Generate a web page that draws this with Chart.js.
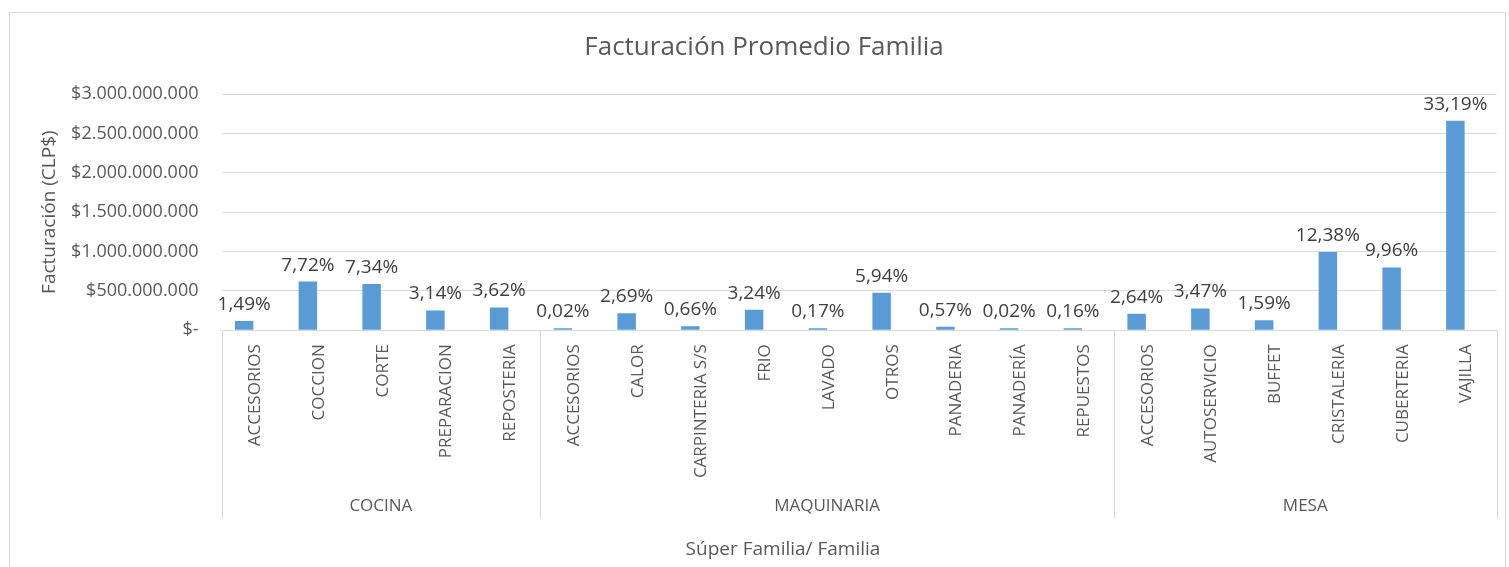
<!DOCTYPE html>
<html>
<head>
<meta charset="utf-8">
<title>Facturación Promedio Familia</title>
<script src="https://cdn.jsdelivr.net/npm/chart.js@4.4.1/dist/chart.umd.min.js"></script>
<style>
  html, body { margin: 0; padding: 0; background: #fff; }
  #wrap { width: 1509px; height: 567px; }
</style>
</head>
<body>
<div id="wrap"><canvas id="myChart" width="1509" height="567"></canvas></div>
<script>
// datos
const familias = ['ACCESORIOS', 'COCCION', 'CORTE', 'PREPARACION', 'REPOSTERIA',
  'ACCESORIOS', 'CALOR', 'CARPINTERIA S/S', 'FRIO', 'LAVADO', 'OTROS', 'PANADERIA', 'PANADERÍA', 'REPUESTOS',
  'ACCESORIOS', 'AUTOSERVICIO', 'BUFFET', 'CRISTALERIA', 'CUBERTERIA', 'VAJILLA'];
const superFamilias = ['COCINA', 'MAQUINARIA', 'MESA'];
const familiasPorGrupo = [5, 9, 6];
const facturacion = [119500000, 619100000, 588700000, 251800000, 290300000,
  1600000, 215700000, 52900000, 259800000, 13600000, 476400000, 45700000, 1600000, 12800000,
  211700000, 278300000, 127500000, 992900000, 798800000, 2661800000];
const porcentajes = [1.49, 7.72, 7.34, 3.14, 3.62,
  0.02, 2.69, 0.66, 3.24, 0.17, 5.94, 0.57, 0.02, 0.16,
  2.64, 3.47, 1.59, 12.38, 9.96, 33.19];
const ticksY = [0, 500000000, 1000000000, 1500000000, 2000000000, 2500000000, 3000000000];

const FUENTE = "'Open Sans', 'Noto Sans', sans-serif";
const GRIS = '#595959';
const LINEA = '#d9d9d9';

function formatoPesos(v) {
  if (v === 0) return '$-';
  return '$' + String(v).replace(/\B(?=(\d{3})+(?!\d))/g, '.');
}

// marco, titulos, etiquetas de datos y segundo nivel del eje x
const extras = {
  id: 'extras',
  beforeDraw(chart) {
    const ctx = chart.ctx;
    ctx.save();
    ctx.fillStyle = '#fff';
    ctx.fillRect(0, 0, chart.width, chart.height);
    ctx.strokeStyle = LINEA;
    ctx.lineWidth = 1;
    ctx.strokeRect(9.5, 12.5, 1496, 600);
    ctx.restore();
  },
  afterDraw(chart) {
    const ctx = chart.ctx;
    const x = chart.scales.x;
    const area = chart.chartArea;
    ctx.save();

    ctx.fillStyle = GRIS;
    ctx.textAlign = 'center';
    ctx.textBaseline = 'middle';
    ctx.font = '26px ' + FUENTE;
    ctx.fillText('Facturación Promedio Familia', 764, 48);
    ctx.font = '19px ' + FUENTE;
    ctx.fillText('Súper Familia/ Familia', 783, 550);

    // porcentajes sobre las barras
    const meta = chart.getDatasetMeta(0);
    ctx.fillStyle = '#404040';
    ctx.font = '19px ' + FUENTE;
    ctx.textBaseline = 'alphabetic';
    meta.data.forEach((bar, i) => {
      const txt = porcentajes[i].toFixed(2).replace('.', ',') + '%';
      ctx.fillText(txt, bar.x, bar.y - 11);
    });

    // separadores y nombres de super familia
    ctx.strokeStyle = LINEA;
    ctx.lineWidth = 1;
    ctx.fillStyle = GRIS;
    ctx.font = '17px ' + FUENTE;
    ctx.textBaseline = 'middle';
    let ini = 0;
    const bordes = [0];
    familiasPorGrupo.forEach(n => { ini += n; bordes.push(ini); });
    bordes.forEach(k => {
      const px = Math.round(x.getPixelForValue(k - 0.5)) + 0.5;
      ctx.beginPath();
      ctx.moveTo(px, area.bottom);
      ctx.lineTo(px, 518);
      ctx.stroke();
    });
    superFamilias.forEach((g, j) => {
      const a = x.getPixelForValue(bordes[j] - 0.5);
      const b = x.getPixelForValue(bordes[j + 1] - 0.5);
      ctx.fillText(g, (a + b) / 2, 506);
    });
    ctx.restore();
  }
};

const ctx = document.getElementById('myChart');
const myChart = new Chart(ctx, {
  type: 'bar',
  data: {
    labels: familias,
    datasets: [{
      label: 'Facturación',
      data: facturacion,
      backgroundColor: '#5B9BD5',
      minBarLength: 2,
      categoryPercentage: 0.58,
      barPercentage: 1
    }, {
      // segunda serie (%) en la misma escala: no se ve, solo desplaza la barra
      label: 'Participación',
      data: porcentajes,
      backgroundColor: 'rgba(0,0,0,0)',
      categoryPercentage: 0.58,
      barPercentage: 1
    }]
  },
  options: {
    responsive: false,
    devicePixelRatio: 1,
    animation: false,
    layout: { padding: { top: 94, right: 12.5, bottom: 0, left: 0 } },
    plugins: {
      legend: { display: false },
      title: { display: false },
      tooltip: { enabled: false }
    },
    scales: {
      x: {
        grid: { display: false, drawTicks: false },
        border: { display: true, color: LINEA },
        ticks: {
          autoSkip: false,
          minRotation: 90,
          maxRotation: 90,
          padding: 14,
          labelOffset: 2,
          color: GRIS,
          font: { family: FUENTE, size: 17 }
        },
        afterFit: (scale) => { scale.height = 236.7; }
      },
      y: {
        min: 0,
        max: 3000000000,
        grid: { color: LINEA, drawTicks: false },
        border: { display: false },
        afterBuildTicks: (scale) => { scale.ticks = ticksY.map(v => ({ value: v })); },
        ticks: {
          padding: 23,
          color: GRIS,
          font: { family: FUENTE, size: 18 },
          callback: (v) => formatoPesos(v)
        },
        title: {
          display: true,
          text: 'Facturación (CLP$)',
          color: GRIS,
          font: { family: FUENTE, size: 19 },
          padding: { top: 38, bottom: 0 }
        },
        afterFit: (scale) => { scale.width = 221.5; }
      }
    }
  },
  plugins: [extras]
});
</script>
</body>
</html>
